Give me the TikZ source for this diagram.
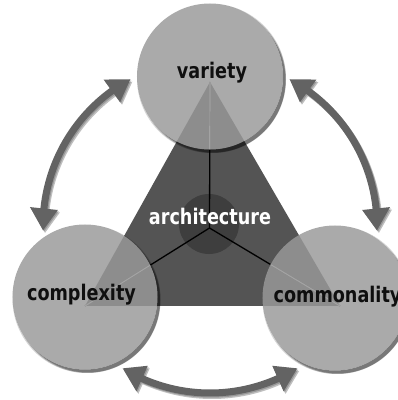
\documentclass[tikz,border=0pt]{standalone}
\usepackage{fontspec}
\setmainfont{DejaVu Sans}

\definecolor{bubblegray}{gray}{0.6}
\definecolor{trianglegray}{gray}{0.33}
\definecolor{hubgray}{gray}{0.245}
\definecolor{arrowgray}{gray}{0.39}
\definecolor{seamgray}{gray}{0.64}
\definecolor{inkgray}{gray}{0.06}

% curved double-headed block arrow on a circle of radius 167 about the origin,
% centred on the angle #1
\newcommand{\arcarrow}[1]{%
  ({#1-31.5}:167) -- ({#1-24}:181) -- ({#1-24}:170.5)
  arc[start angle={#1-24}, end angle={#1+24}, radius=170.5]
  -- ({#1+24}:181) -- ({#1+31.5}:167) -- ({#1+24}:153) -- ({#1+24}:163.5)
  arc[start angle={#1+24}, end angle={#1-24}, radius=163.5]
  -- ({#1-24}:153) -- cycle}

% soft drop shadow kept outside the disc at (#1,#2) of radius #3
\newcommand{\discshadow}[3]{%
  \begin{scope}
    \clip (-20,-20) -- (-20,420) -- (420,420) -- (420,-20) -- cycle
          (#1,#2) circle (#3);
    \fill[black, opacity=0.16] ({#1+1.5},{#2-2}) circle ({#3+1.5});
    \fill[black, opacity=0.22] ({#1+2.5},{#2-3}) circle ({#3+0.5});
    \fill[black, opacity=0.28] ({#1+3},{#2-3.5}) circle ({#3-0.5});
  \end{scope}}

% condensed bold label text
\newcommand{\lbltext}[1]{\scalebox{0.82}[1]{#1}}

\begin{document}
\begin{tikzpicture}[x=1bp, y=1bp,
  bubble/.style={circle, inner sep=0pt, minimum size=145bp, fill=bubblegray,
                 fill opacity=0.83},
  wordtxt/.style={anchor=base, inner sep=0pt, text=inkgray,
                  font=\fontsize{21.5bp}{24bp}\selectfont\bfseries},
  spoke/.style={black, line width=1.3bp},
  seam/.style={seamgray, line width=1.2bp}]

\useasboundingbox (0,0) rectangle (398,400);
\fill[white] (0,0) rectangle (398,400);

% arrows between the three discs, with their shadows
\foreach \a in {150,30,270}{
  \begin{scope}[shift={(212,171.5)}]
    \fill[black, opacity=0.25] \arcarrow{\a};
  \end{scope}
  \begin{scope}[shift={(211,172.8)}]
    \fill[black, opacity=0.2] \arcarrow{\a};
  \end{scope}
  \begin{scope}[shift={(210,174)}]
    \fill[arrowgray] \arcarrow{\a};
  \end{scope}
}

% triangle and hub
\coordinate (vt) at (210,318);
\coordinate (vl) at (85,94);
\coordinate (vr) at (340,94);
\coordinate (J) at (209.5,172);
\fill[trianglegray] (vt) -- (vl) -- (vr) -- cycle;
\node[circle, inner sep=0pt, minimum size=60bp, fill=hubgray] (hub) at (209,176) {};

% spokes from the hub to the corners
\draw[spoke] (J) -- (vt);
\draw[spoke] (J) -- (vl);
\draw[spoke] (J) -- (vr);

% shadows of the discs
\discshadow{210}{323.5}{73}
\discshadow{85}{103}{72.5}
\discshadow{335}{102}{72.5}

% the three discs
\node[bubble, minimum size=146bp] (ctop) at (210,323.5) {};
\node[bubble] (cleft) at (85,103) {};
\node[bubble] (cright) at (335,102) {};

% light seams where the spokes run under the discs
\begin{scope}
  \clip (ctop.center) circle (73);
  \draw[seam] (J) -- (vt);
\end{scope}
\begin{scope}
  \clip (cleft.center) circle (72.5);
  \draw[seam] (J) -- (vl);
\end{scope}
\begin{scope}
  \clip (cright.center) circle (72.5);
  \draw[seam] (J) -- (vr);
\end{scope}

% labels
\node[wordtxt] (tvariety) at (212,322) {\lbltext{variety}};
\node[wordtxt, text=white] (tarch) at (210,176) {\lbltext{architecture}};
\node[wordtxt] (tcomplex) at (81.5,100) {\lbltext{complexity}};
\node[wordtxt] (tcommon) at (337.5,98) {\lbltext{commonality}};
\end{tikzpicture}
\end{document}
